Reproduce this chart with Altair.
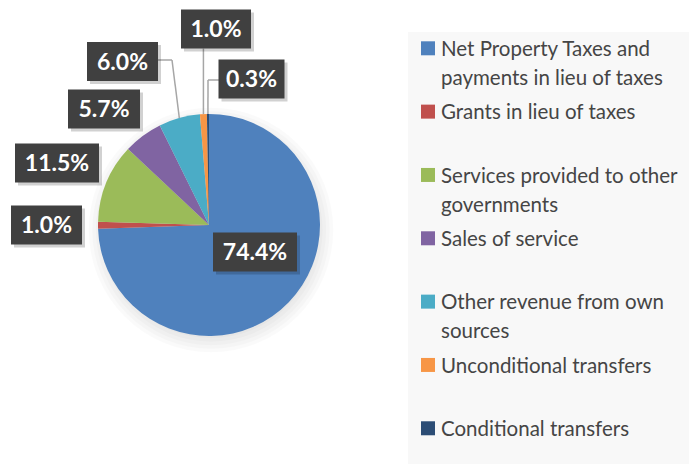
import math
import altair as alt
import pandas as pd

# ---------------- data ----------------
categories = [
    "Net Property Taxes and payments in lieu of taxes",
    "Grants in lieu of taxes",
    "Services provided to other governments",
    "Sales of service",
    "Other revenue from own sources",
    "Unconditional transfers",
    "Conditional transfers",
]
values = [74.4, 1.0, 11.5, 5.7, 6.0, 1.0, 0.3]
value_labels = ["74.4%", "1.0%", "11.5%", "5.7%", "6.0%", "1.0%", "0.3%"]
legend_lines = [
    ["Net Property Taxes and", "payments in lieu of taxes"],
    ["Grants in lieu of taxes"],
    ["Services provided to other", "governments"],
    ["Sales of service"],
    ["Other revenue from own", "sources"],
    ["Unconditional transfers"],
    ["Conditional transfers"],
]
colors = ["#4F81BD", "#C0504D", "#9BBB59", "#8064A2", "#4BACC6", "#F79646", "#2C4D75"]

# ---------------- layout (pixels in plot area) ----------------
W, H = 681, 456
CX, CY, R = 201, 217, 111
BOX_H = 39
CAP = 8.2
# label box centres and widths
label_layout = [(247, 244, 84), (38.5, 217, 71), (49, 155, 84), (96, 101, 72),
                (114.5, 53.5, 71), (208, 21, 70), (243.5, 71, 66)]
# leader starting points (before reaching the slice edge)
leader_starts = {4: [(150, 52), (164, 52)], 5: None, 6: [(211, 72), (200, 72)]}

total = sum(values)
cum = 0
edges = []
for v in values:
    mid = (cum + v / 2) / total * 2 * math.pi
    edges.append((CX + R * math.sin(mid), CY - R * math.cos(mid)))
    cum += v

xs = alt.Scale(domain=[0, W], nice=False, zero=False)
ys = alt.Scale(domain=[0, H], nice=False, zero=False, reverse=True)

pie_df = pd.DataFrame({"category": categories, "value": values, "idx": list(range(len(values)))})

# legend background
legend_bg = alt.Chart(pd.DataFrame({"x": [400], "x2": [W], "y": [24], "y2": [H]})).mark_rect(
    color="#f8f8f8").encode(
    x=alt.X("x:Q", scale=xs, axis=None), x2="x2:Q",
    y=alt.Y("y:Q", scale=ys, axis=None), y2="y2:Q")

# soft pie shadow
shadow_layers = []
for r in [114, 118, 122, 126, 130, 134, 138]:
    shadow_layers.append(
        alt.Chart(pd.DataFrame({"d": [0]})).mark_circle(
            color="black", opacity=0.018, size=math.pi * r * r).encode(
            x=alt.value(CX + 2), y=alt.value(CY + 5)))

pie = alt.Chart(pie_df).mark_arc(outerRadius=R, stroke=None).encode(
    theta=alt.Theta("value:Q", stack=True),
    order=alt.Order("idx:Q"),
    color=alt.Color("category:N", scale=alt.Scale(domain=categories, range=colors), legend=None),
    x=alt.value(CX), y=alt.value(CY),
)

# leader lines
segs = []
for i, pts in leader_starts.items():
    ex, ey = edges[i]
    if pts is None:
        bx, by, bw = label_layout[i]
        pts = [(ex, by + BOX_H / 2)]
    chain = pts + [(ex, ey)]
    for a, b in zip(chain[:-1], chain[1:]):
        segs.append({"x": a[0], "y": a[1], "x2": b[0], "y2": b[1]})
leaders = alt.Chart(pd.DataFrame(segs)).mark_rule(color="#a6a6a6", strokeWidth=1.5).encode(
    x=alt.X("x:Q", scale=xs, axis=None), x2="x2:Q",
    y=alt.Y("y:Q", scale=ys, axis=None), y2="y2:Q")

# label boxes
lab_rows = []
for i, (bx, by, bw) in enumerate(label_layout):
    lab_rows.append({"label": value_labels[i], "cx": bx, "ty": by + CAP,
                     "x": bx - bw / 2, "x2": bx + bw / 2,
                     "y": by - BOX_H / 2, "y2": by + BOX_H / 2,
                     "sx": bx - bw / 2 + 3, "sx2": bx + bw / 2 + 3,
                     "sy": by - BOX_H / 2 + 3, "sy2": by + BOX_H / 2 + 3})
lab_df = pd.DataFrame(lab_rows)
box_shadow = alt.Chart(lab_df).mark_rect(color="black", opacity=0.18).encode(
    x=alt.X("sx:Q", scale=xs, axis=None), x2="sx2:Q",
    y=alt.Y("sy:Q", scale=ys, axis=None), y2="sy2:Q")
boxes = alt.Chart(lab_df).mark_rect(color="#404040").encode(
    x=alt.X("x:Q", scale=xs, axis=None), x2="x2:Q",
    y=alt.Y("y:Q", scale=ys, axis=None), y2="y2:Q")
labels = alt.Chart(lab_df).mark_text(
    font="Lato", fontWeight="bold", fontSize=23, color="white",
    align="center", baseline="alphabetic").encode(
    x=alt.X("cx:Q", scale=xs, axis=None),
    y=alt.Y("ty:Q", scale=ys, axis=None),
    text="label:N")

# legend
LEG_Y0, LEG_DY, LINE_DY = 40.3, 63.33, 29
sq_rows, txt_rows = [], []
for i, lines in enumerate(legend_lines):
    yc = LEG_Y0 + LEG_DY * i
    sq_rows.append({"category": categories[i], "x": 413, "x2": 427, "y": yc - 7, "y2": yc + 7})
    for j, t in enumerate(lines):
        txt_rows.append({"t": t, "x": 433, "y": yc + 7.6 + LINE_DY * j})
legend_sq = alt.Chart(pd.DataFrame(sq_rows)).mark_rect().encode(
    x=alt.X("x:Q", scale=xs, axis=None), x2="x2:Q",
    y=alt.Y("y:Q", scale=ys, axis=None), y2="y2:Q",
    color=alt.Color("category:N", scale=alt.Scale(domain=categories, range=colors), legend=None))
legend_txt = alt.Chart(pd.DataFrame(txt_rows)).mark_text(
    font="Lato", fontSize=20.5, color="#454545", align="left", baseline="alphabetic").encode(
    x=alt.X("x:Q", scale=xs, axis=None),
    y=alt.Y("y:Q", scale=ys, axis=None),
    text="t:N")

chart = alt.layer(
    legend_bg, *shadow_layers, pie, leaders, box_shadow, boxes, labels, legend_sq, legend_txt
).properties(width=W, height=H, padding=0, background="white").configure_view(stroke=None)

chart.save("out.html", embed_options={"renderer": "svg", "actions": False})
